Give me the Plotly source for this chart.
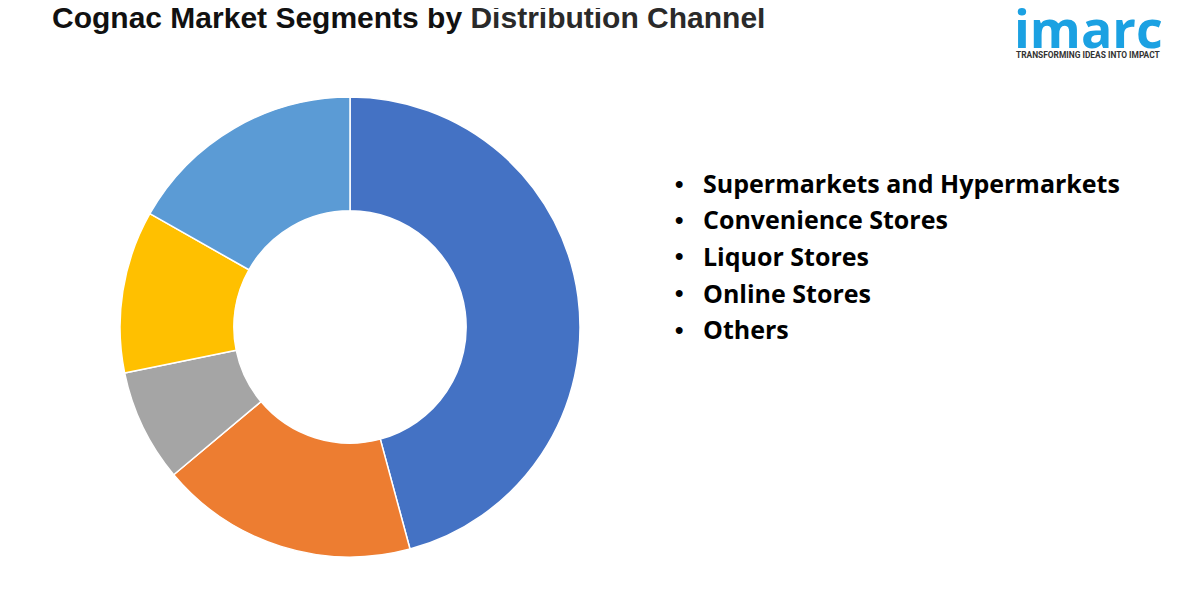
import plotly.graph_objects as go

categories = ["Supermarkets and Hypermarkets", "Convenience Stores", "Liquor Stores", "Online Stores", "Others"]
shares = [45.8, 18.1, 7.9, 11.4, 16.8]
colors = ["#4472C4", "#ED7D31", "#A5A5A5", "#FFC000", "#5B9BD5"]

W, H = 1192, 592  # page body has an 8px margin


def px(x):
    return (x - 8) / W


def py(y):
    return 1 - (y - 8) / H


fig = go.Figure()
fig.add_trace(go.Pie(
    labels=categories,
    values=shares,
    sort=False,
    direction="clockwise",
    rotation=0,
    hole=0.505,
    textinfo="none",
    hoverinfo="label+percent",
    marker=dict(colors=colors, line=dict(color="#FFFFFF", width=1.5)),
    domain=dict(x=[px(120), px(580)], y=[py(557), py(97)]),
    showlegend=False,
))

annotations = []
# Title
annotations.append(dict(
    text="<b>Cognac Market Segments by <span style='color:#2a2a2a'>Distribution Channel</span></b>",
    x=px(50), y=py(17), xref="paper", yref="paper", showarrow=False,
    xanchor="left", yanchor="middle",
    font=dict(family="Liberation Sans, Arial, sans-serif", size=30, color="#111111"),
))
# Legend list
for i, cat in enumerate(categories):
    yy = py(183 + i * 36.5)
    annotations.append(dict(
        text="<b>•</b>", x=px(679), y=yy, xref="paper", yref="paper", showarrow=False,
        xanchor="center", yanchor="middle",
        font=dict(family="Liberation Sans, sans-serif", size=24, color="#000000"),
    ))
    annotations.append(dict(
        text="<b>" + cat + "</b>", x=px(701), y=yy, xref="paper", yref="paper", showarrow=False,
        xanchor="left", yanchor="middle",
        font=dict(family="Open Sans, sans-serif", size=25, color="#000000"),
    ))
# Logo
annotations.append(dict(
    text="<b>imarc</b>", x=px(1088), y=py(27), xref="paper", yref="paper", showarrow=False,
    xanchor="center", yanchor="middle",
    font=dict(family="Open Sans, sans-serif", size=52, color="#1BA1E2"),
))
annotations.append(dict(
    text="<b>TRANSFORMING IDEAS INTO IMPACT</b>", x=px(1088), y=py(55), xref="paper", yref="paper", showarrow=False,
    xanchor="center", yanchor="middle",
    font=dict(family="Roboto, sans-serif", size=8.4, color="#333333"),
))

fig.update_layout(
    width=W, height=H,
    margin=dict(l=0, r=0, t=0, b=0),
    paper_bgcolor="#FFFFFF",
    plot_bgcolor="#FFFFFF",
    annotations=annotations,
)

fig.write_html("out.html")
